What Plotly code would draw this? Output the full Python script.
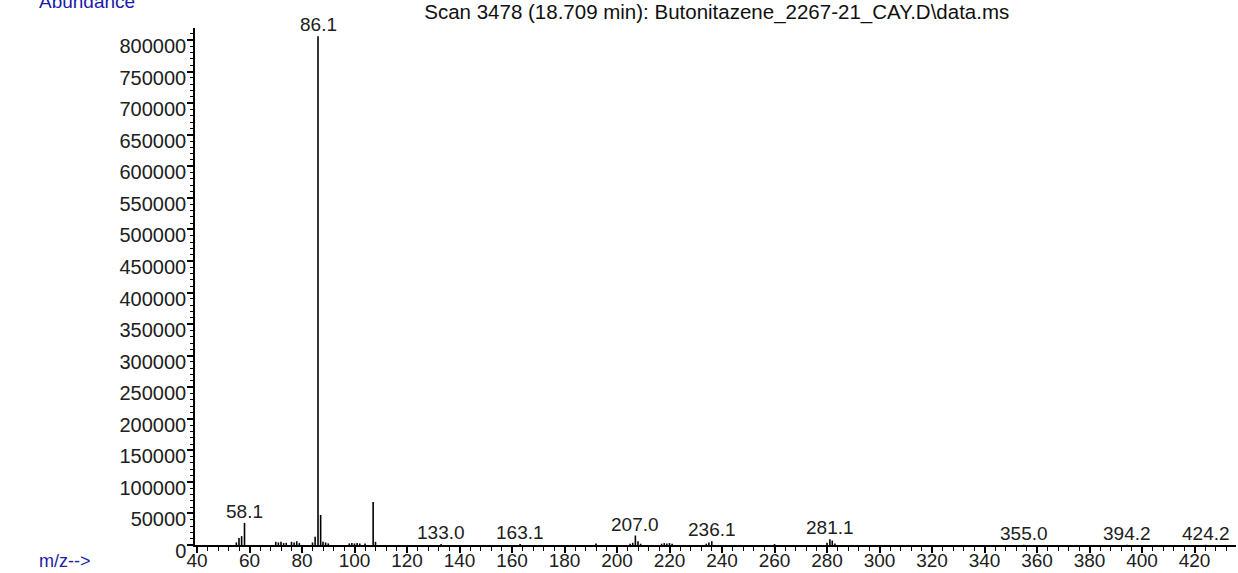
import plotly.graph_objects as go

# m/z values and abundances
mz = [55.0, 56.0, 57.0, 58.1, 70.0, 71.0, 72.0, 73.0, 74.0, 76.0, 77.0, 78.0, 79.0,
      84.0, 85.0, 86.1, 87.1, 88.0, 89.0, 90.0, 98.0, 99.0, 100.0, 101.0, 102.0, 104.0,
      107.1, 108.0, 133.0, 163.1, 192.0, 205.0, 206.0, 207.0, 208.0, 209.0,
      217.0, 218.0, 219.0, 220.0, 221.0, 234.0, 235.0, 236.1, 260.0,
      280.0, 281.1, 282.0, 283.0, 355.0, 394.2, 424.2]
abundance = [4000, 11000, 14000, 35000, 5000, 4000, 5000, 3000, 3500, 5000, 4000, 6000, 3000,
             4000, 13000, 806000, 47500, 5000, 4000, 2500, 2500, 3000, 2500, 3000, 2500, 2500,
             68000, 5000, 1500, 1500, 2500, 2000, 3500, 15000, 6000, 2000,
             2000, 3000, 2500, 3000, 2000, 2000, 4000, 6000, 1500,
             3500, 9000, 7000, 2500, 400, 400, 400]

label_mz = [58.1, 86.1, 133.0, 163.1, 207.0, 236.1, 281.1, 355.0, 394.2, 424.2]
label_text = ["58.1", "86.1", "133.0", "163.1", "207.0", "236.1", "281.1", "355.0", "394.2", "424.2"]

x_ticks = list(range(40, 421, 20))

FONT = "Liberation Sans, Arial, sans-serif"

xs, ys = [], []
for m, a in zip(mz, abundance):
    xs += [m, m, None]
    ys += [0, a, None]

fig = go.Figure()
fig.add_trace(go.Scatter(x=xs, y=ys, mode="lines",
                         line=dict(color="black", width=1.6),
                         hoverinfo="skip", showlegend=False))

ab_map = dict(zip(mz, abundance))
for m, t in zip(label_mz, label_text):
    fig.add_annotation(x=m, y=ab_map[m], text=t, showarrow=False,
                       xanchor="center", yanchor="bottom", yshift=-1,
                       font=dict(family=FONT, size=19, color="#202020"))

fig.add_annotation(xref="paper", yref="paper", x=-0.152, y=1.0275, text="Abundance",
                   showarrow=False, xanchor="left", yanchor="bottom",
                   font=dict(family=FONT, size=19, color="#1c1ca8"))
fig.add_annotation(xref="paper", yref="paper", x=-0.152, y=-0.031, text="m/z-->",
                   showarrow=False, xanchor="left", yanchor="middle",
                   font=dict(family=FONT, size=18, color="#1c1ca8"))

fig.update_layout(
    width=1238, height=573,
    margin=dict(l=195, r=2, t=28, b=28, autoexpand=False),
    paper_bgcolor="white", plot_bgcolor="white",
    title=dict(text="Scan 3478 (18.709 min): Butonitazene_2267-21_CAY.D\\data.ms",
               x=0.579, xanchor="center", y=0.979, yanchor="middle",
               font=dict(family=FONT, size=20.5, color="#101010")),
    font=dict(family=FONT, size=19, color="#202020"),
)
fig.update_xaxes(range=[39.24, 435.8], tickvals=x_ticks, ticks="outside", ticklen=6,
                 tickwidth=1.5, tickcolor="black", showline=True, linecolor="black",
                 linewidth=1.5, showgrid=False, zeroline=False, automargin=False,
                 ticklabelstandoff=-9,
                 minor=dict(dtick=4, tick0=40, ticks="outside", ticklen=4, tickwidth=1.3,
                            tickcolor="black", showgrid=False),
                 tickfont=dict(family=FONT, size=19, color="#202020"))
fig.update_yaxes(range=[0, 819000], dtick=50000, tick0=0, tickformat="d", ticks="outside",
                 ticklen=6, tickwidth=1.5, tickcolor="black", showline=True,
                 linecolor="black", linewidth=1.5, showgrid=False, zeroline=False,
                 automargin=False, ticklabelstandoff=-3,
                 minor=dict(dtick=10000, ticks="outside", ticklen=3, tickwidth=1.3,
                            tickcolor="black", showgrid=False),
                 ticklabelshift=6,
                 tickfont=dict(family=FONT, size=20, color="#202020"))

fig.write_html("out.html", config={"displayModeBar": False},
               post_script="document.body.style.margin='0';")
